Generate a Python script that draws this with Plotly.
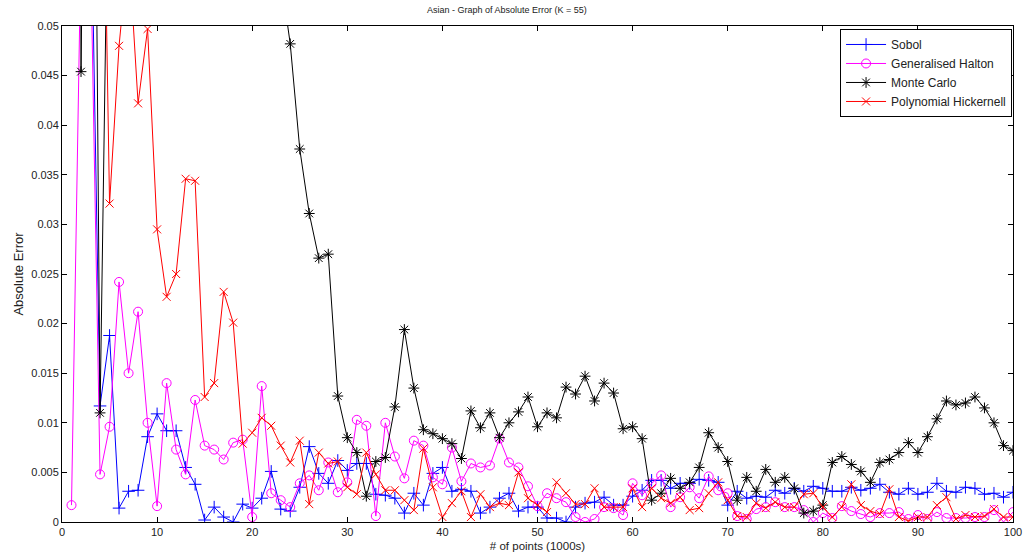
import plotly.graph_objects as go

points = list(range(1, 101))

sobol = [0.09, 0.08, 0.066, 0.0117, 0.0188, 0.0014, 0.0031, 0.0032, 0.0086, 0.0109,
         0.0092, 0.0092, 0.0055, 0.0038, 0.0002, 0.0015, 0.0005, 0.0, 0.0018, 0.0014,
         0.0024, 0.0051, 0.0013, 0.0011, 0.0035, 0.0076, 0.0049, 0.0039, 0.0062, 0.0052,
         0.0059, 0.0059, 0.0028, 0.0027, 0.0024, 0.0009, 0.0029, 0.0017, 0.0049, 0.0055,
         0.0031, 0.0033, 0.0031, 0.0009, 0.0015, 0.0024, 0.0029, 0.0011, 0.0015, 0.0015,
         0.0004, 0.0004, 0.0, 0.0015, 0.0019, 0.002, 0.0025, 0.0017, 0.0017, 0.0026,
         0.0032, 0.0042, 0.0042, 0.0034, 0.0039, 0.0039, 0.0043, 0.0042, 0.004, 0.0017,
         0.0031, 0.0024, 0.0026, 0.0025, 0.0032, 0.0029, 0.0034, 0.0031, 0.0036, 0.0034,
         0.0031, 0.0031, 0.0035, 0.0032, 0.0034, 0.0038, 0.003, 0.0028, 0.0034, 0.0028,
         0.003, 0.0039, 0.0031, 0.003, 0.0035, 0.0034, 0.0028, 0.0029, 0.0025, 0.003]

halton = [0.0017, 0.0585, 0.058, 0.0048, 0.0096, 0.0242, 0.015, 0.0212, 0.01, 0.0016,
          0.014, 0.0073, 0.0048, 0.0123, 0.0077, 0.0073, 0.0063, 0.008, 0.0083, 0.0005,
          0.0137, 0.0029, 0.0022, 0.0015, 0.0039, 0.0047, 0.0032, 0.006, 0.003, 0.004,
          0.0103, 0.0097, 0.0006, 0.01, 0.0066, 0.0044, 0.0082, 0.0077, 0.0045, 0.0038,
          0.0075, 0.0041, 0.0059, 0.0055, 0.0057, 0.0084, 0.006, 0.0055, 0.0036, 0.0016,
          0.0029, 0.0024, 0.002, 0.0005, 0.0, 0.0003, 0.0015, 0.0014, 0.0007, 0.0039,
          0.0027, 0.0039, 0.0047, 0.0015, 0.0025, 0.0035, 0.0024, 0.0046, 0.0032, 0.0029,
          0.0006, 0.0003, 0.0013, 0.0015, 0.002, 0.0015, 0.0015, 0.0012, 0.0, 0.0009,
          0.0004, 0.0016, 0.0011, 0.0008, 0.0005, 0.0009, 0.0009, 0.001, 0.0003, 0.0007,
          0.0003, 0.001, 0.0004, 0.0004, 0.0004, 0.0005, 0.0005, 0.0012, 0.0, 0.001]

monte_carlo = [0.4, 0.0454, 0.13, 0.011, 0.076, 0.09, 0.1, 0.085, 0.095, 0.08,
               0.088, 0.075, 0.082, 0.07, 0.078, 0.068, 0.072, 0.065, 0.066, 0.062,
               0.06, 0.058, 0.055, 0.0482, 0.0376, 0.0311, 0.0266, 0.027, 0.0127, 0.0085,
               0.007, 0.0026, 0.0061, 0.0065, 0.0116, 0.0194, 0.0135, 0.0093, 0.0089, 0.0084,
               0.0079, 0.0064, 0.0112, 0.0095, 0.011, 0.0085, 0.01, 0.0111, 0.0126, 0.0096,
               0.011, 0.0105, 0.0136, 0.0129, 0.0147, 0.0122, 0.014, 0.013, 0.0094, 0.0096,
               0.0084, 0.0022, 0.0029, 0.0044, 0.0034, 0.004, 0.0055, 0.009, 0.0075, 0.0061,
               0.0022, 0.0045, 0.0031, 0.0053, 0.004, 0.0045, 0.0034, 0.0009, 0.0011, 0.0017,
               0.006, 0.0066, 0.0058, 0.0051, 0.004, 0.006, 0.0063, 0.007, 0.008, 0.007,
               0.0086, 0.0104, 0.0122, 0.0118, 0.012, 0.0126, 0.0115, 0.01, 0.0077, 0.0072]

hickernell = [0.15, 0.12, 0.1, 0.09, 0.0321, 0.048, 0.058, 0.0422, 0.0497, 0.0295,
              0.0227, 0.025, 0.0346, 0.0344, 0.0126, 0.014, 0.0232, 0.0201, 0.0079, 0.009,
              0.0105, 0.0097, 0.0077, 0.006, 0.0082, 0.0018, 0.007, 0.0059, 0.0061, 0.0035,
              0.0028, 0.007, 0.0048, 0.0032, 0.0032, 0.0022, 0.0012, 0.0074, 0.0035, 0.0005,
              0.0019, 0.0031, 0.0005, 0.0028, 0.0015, 0.0019, 0.0017, 0.005, 0.0024, 0.0017,
              0.001, 0.004, 0.0029, 0.0018, 0.0018, 0.0034, 0.0015, 0.0015, 0.0015, 0.0034,
              0.0015, 0.0034, 0.0024, 0.0019, 0.0025, 0.0012, 0.0014, 0.0029, 0.004, 0.0022,
              0.0006, 0.0005, 0.0019, 0.0014, 0.002, 0.0015, 0.0015, 0.0028, 0.0029, 0.0015,
              0.0005, 0.0015, 0.0038, 0.0017, 0.0011, 0.0008, 0.0033, 0.0005, 0.0001, 0.0005,
              0.0005, 0.0017, 0.0025, 0.0003, 0.0007, 0.0005, 0.0006, 0.0013, 0.0005, 0.0005]

x_ticks = [0, 10, 20, 30, 40, 50, 60, 70, 80, 90, 100]
y_ticks = [0, 0.005, 0.01, 0.015, 0.02, 0.025, 0.03, 0.035, 0.04, 0.045, 0.05]
y_tick_labels = ["0", "0.005", "0.01", "0.015", "0.02", "0.025", "0.03", "0.035", "0.04", "0.045", "0.05"]

series = [
    ("Sobol", sobol, "#0000FF", "cross-thin-open", 9),
    ("Generalised Halton", halton, "#FF00FF", "circle-open", 9),
    ("Monte Carlo", monte_carlo, "#000000", "asterisk-open", 9),
    ("Polynomial Hickernell", hickernell, "#FF0000", "x-thin-open", 8),
]

FONT = "Liberation Sans, Arial, sans-serif"
TXT = "#222222"

fig = go.Figure()
for name, vals, color, sym, size in series:
    fig.add_trace(go.Scatter(
        x=points, y=vals, name=name, mode="lines+markers",
        line=dict(color=color, width=1),
        marker=dict(symbol=sym, size=size, color=color, line=dict(color=color, width=1)),
    ))

axis_common = dict(
    showline=True, linecolor="black", linewidth=1, mirror="ticks",
    ticks="inside", ticklen=5, tickcolor="black", showgrid=False, zeroline=False,
    automargin=False,
    tickfont=dict(family=FONT, size=11, color=TXT),
)

fig.update_layout(
    width=1023, height=560,
    margin=dict(l=62, r=10, t=26, b=38),
    paper_bgcolor="white", plot_bgcolor="white",
    font=dict(family=FONT, size=11, color=TXT),
    title=dict(text="Asian - Graph of Absolute Error (K = 55)", x=0.4955, xanchor="center",
               y=0.988, yanchor="top", font=dict(family=FONT, size=9, color=TXT)),
    xaxis=dict(range=[0, 100], tickvals=x_ticks,
               title=dict(text="# of points (1000s)", standoff=4,
                          font=dict(family=FONT, size=11.5, color=TXT)),
               **axis_common),
    yaxis=dict(range=[0, 0.05], tickvals=y_ticks, ticktext=y_tick_labels,
               title=dict(text="Absolute Error", standoff=4,
                          font=dict(family=FONT, size=13, color=TXT)),
               **axis_common),
    legend=dict(x=0.999, xanchor="right", y=0.994, yanchor="top",
                bgcolor="white", bordercolor="black", borderwidth=1,
                font=dict(family=FONT, size=12, color=TXT),
                tracegroupgap=0, itemwidth=40),
    showlegend=True,
)

fig.write_html("out.html")
